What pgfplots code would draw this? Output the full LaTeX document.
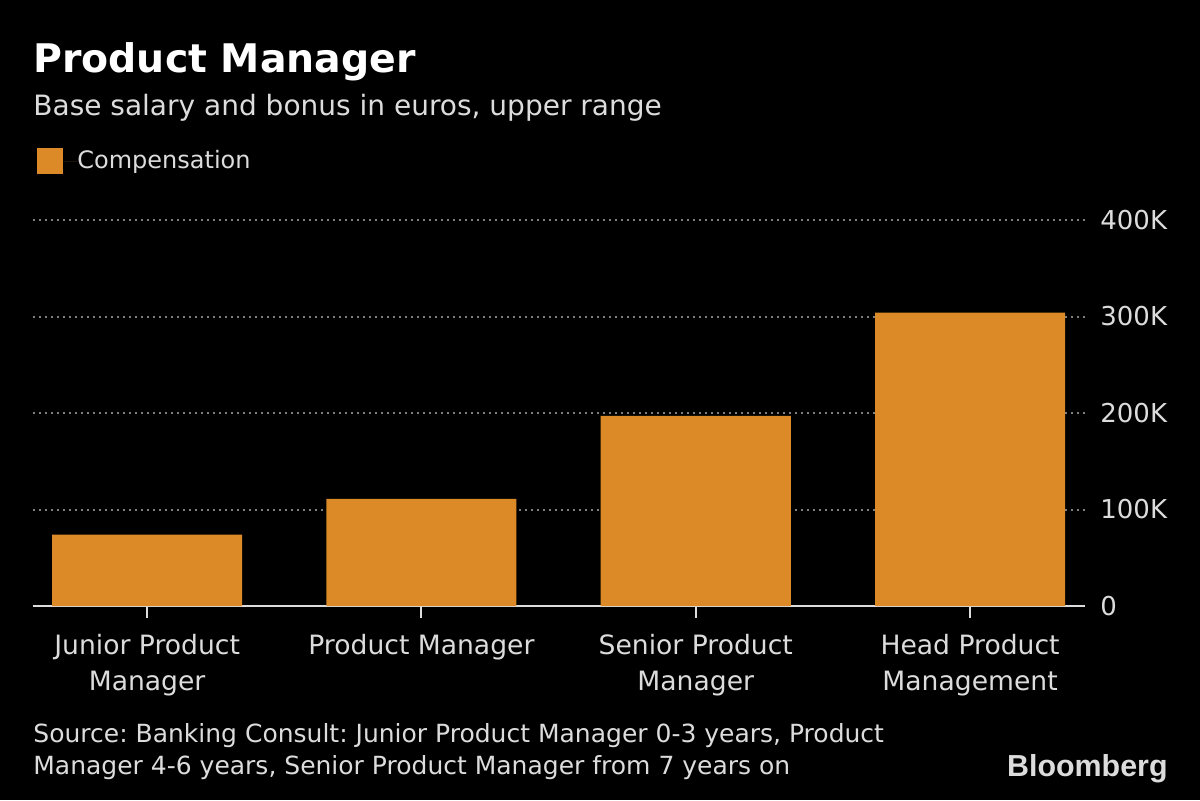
\documentclass[border=0pt]{standalone}
\usepackage{pgfplots}
\pgfplotsset{compat=1.18}
\usepackage{fontspec}
\setmainfont{DejaVu Sans}
\newfontfamily\logofont{Liberation Sans}
\definecolor{bbgorange}{HTML}{DC8A27}
\definecolor{bbgtext}{HTML}{DCDCDC}
\definecolor{bbggrid}{HTML}{808080}
\frenchspacing
\begin{document}
\begin{tikzpicture}
\fill[black] (0pt,0pt) rectangle (600pt,400pt);
\node[anchor=base west, inner sep=0pt, text=white, font=\bfseries\fontsize{19.7}{23}\selectfont] at (16.5pt,363.5pt) {Product Manager};
\node[anchor=base west, inner sep=0pt, text=bbgtext, font=\fontsize{14}{17}\selectfont] at (16.5pt,342pt) {Base salary and bonus in euros, upper range};
\begin{axis}[
  at={(16.5pt,97pt)}, anchor=south west,
  scale only axis, width=526pt, height=193pt,
  xmin=-0.416, xmax=3.419, ymin=0, ymax=400000,
  axis x line*=bottom, axis y line*=right,
  y axis line style={draw=none},
  x axis line style={draw=bbgtext, line width=1pt},
  tick align=outside, major tick length=6pt,
  xtick style={draw=bbgtext, line width=1pt},
  ytick style={draw=none},
  xtick={0,1,2,3},
  xticklabels={{Junior Product\\Manager},{Product Manager},{Senior Product\\Manager},{Head Product\\Management}},
  xticklabel style={align=center, anchor=north, inner sep=0pt, yshift=-8pt, text=bbgtext, font=\fontsize{13.3}{18}\selectfont},
  ytick={0,100000,200000,300000,400000},
  yticklabels={0,100K,200K,300K,400K},
  scaled y ticks=false,
  yticklabel style={anchor=west, inner sep=0pt, xshift=1.5pt, text=bbgtext, font=\fontsize{13}{16}\selectfont},
  /pgf/number format/assume math mode=true,
  ymajorgrids,
  grid style={draw=bbggrid, line width=1pt, dash pattern=on 1pt off 2pt},
  ybar, bar width=0.693,
  legend style={draw=none, fill=none, text=bbgtext, font=\fontsize{12}{15}\selectfont,
    at={(axis description cs:0,1)}, anchor=west, xshift=2pt, yshift=29.5pt,
    inner sep=0pt, nodes={inner sep=0pt}},
  legend image code/.code={\fill[bbgorange] (0pt,-6.5pt) rectangle (13pt,6.5pt); \path (0pt,0pt) -- (20pt,0pt);},
]
\addplot[fill=bbgorange, draw=none] coordinates {(0,74000) (1,111000) (2,197000) (3,304000)};
\addlegendentry{Compensation}
\end{axis}
\node[anchor=base west, inner sep=0pt, text=bbgtext, font=\fontsize{12.5}{15}\selectfont] at (16.5pt,29pt) {Source: Banking Consult: Junior Product Manager 0-3 years, Product};
\node[anchor=base west, inner sep=0pt, text=bbgtext, font=\fontsize{12.5}{15}\selectfont] at (16.5pt,13pt) {Manager 4-6 years, Senior Product Manager from 7 years on};
\node[anchor=base east, inner sep=0pt, text=bbgtext, font=\logofont\bfseries\fontsize{15.2}{18}\selectfont] at (584pt,11.7pt) {Bloomberg};
\end{tikzpicture}
\end{document}
